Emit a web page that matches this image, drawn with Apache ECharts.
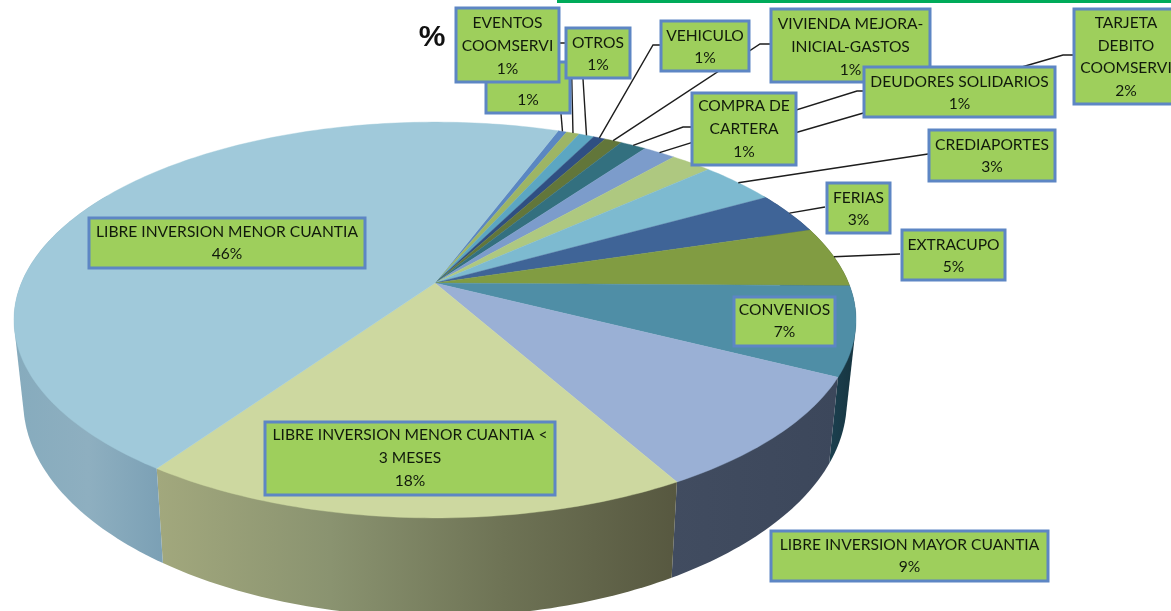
<!DOCTYPE html>
<html><head><meta charset="utf-8">
<style>html,body{margin:0;padding:0;background:#fff}#c{width:1171px;height:611px}</style>
<script src="https://cdn.jsdelivr.net/npm/echarts@6/dist/echarts.min.js"></script>
</head><body><div id="c"></div>
<script>
// ---- data (clockwise, starting at the small slices) ----
var categories = ['EVENTOS\nCOOMSERVI','','OTROS','VEHICULO','VIVIENDA MEJORA-\nINICIAL-GASTOS','COMPRA DE\nCARTERA','DEUDORES SOLIDARIOS','TARJETA\nDEBITO\nCOOMSERVI','CREDIAPORTES','FERIAS','EXTRACUPO','CONVENIOS','LIBRE INVERSION MAYOR CUANTIA','LIBRE INVERSION MENOR CUANTIA <\n3 MESES','LIBRE INVERSION MENOR CUANTIA'];
var values = [0.4,0.6,0.7,0.55,0.8,1.2,1.5,1.9,3.55,3.4,4.95,7.25,9.4,17.8,46.1];
var percentLabels = ['1%','1%','1%','1%','1%','1%','1%','2%','3%','3%','5%','7%','9%','18%','46%'];

// ---- styles ----
var topColors = ['#5b87c2','#9db565','#5ca6c2','#2f4f82','#62763a','#33707f','#7c9ccb','#aec880','#7dbad0','#3f6497','#819c42','#4f8ea6','#9ab0d5','#cdd8a0','#a0c9da'];
var wallStops = [
 ['#2f4f82','#2f4f82'],['#66783a','#66783a'],['#33687c','#33687c'],['#1e3352','#1e3352'],['#3f4a24','#3f4a24'],['#1f4150','#1f4150'],['#4c607e','#4c607e'],['#6f7d55','#6f7d55'],['#4f7280','#4f7280'],['#273f60','#273f60'],['#3b4a22','#2f3b1a'],
 ['#1c4050','#16343f'],
 ['#414c60','#3c475b'],
 ['#a2a87d','#8a9370','#6e7355','#575840'],
 ['#86abbd','#8eafc0','#7ba0b5']
];
// box: x, y, w, h, text centre y, stacking
var boxLayout = [
 [456,8,103,74,46,3],[486,62,84,51,100,1],[566,28,64,50,54,2],[661,21,88,50,47,1],[771,9,159,73,47,1],[692,93,104,72,129,1],[864,67,191,50,93,2],[1074,9,104,95,57,1],[929,130,126,51,156,1],[827,183,63,50,209,1],[902,230,103,50,256,1],[734,297,101,49,321,1],[771,531,277,50,556,1],[265,422,290,73,458,1],[89,218,276,50,243,1]
];
// leader bends from the rim to the box
var leaderLayout = [
 [[559,90]],[[571,43],[560,43]],[[583,79]],[[653,45],[660,45]],[[760,44],[770,44]],[[683,127],[691,127]],[[857,91],[863,91]],[[1063,55],[1073,55]],[[928,154]],[[825,207]],[[900,254]],null,null,null,null
];
var startAngle = 20.5;
var apex = [435,283], A = 413.6, B = 191, persp = 0.187, lowA = 404.5, lowB = 208, lowY = 78;

function project(deg, a, b, y0){
  var r = deg*Math.PI/180, u = Math.sin(r), v = -Math.cos(r), w = 1-persp*v;
  return [apex[0]+a*u/w, apex[1]+y0+b*v/w];
}
var spans = (function(){
  var total = values.reduce(function(s,x){return s+x;},0), a = startAngle, out = [];
  values.forEach(function(x){ var e = a+x/total*360; out.push([a,e]); a = e; });
  return out;
})();
function arc(s,e,a,b,y0){
  var pts = [], n = Math.max(2,Math.ceil((e-s)));
  for(var i=0;i<=n;i++) pts.push(project(s+(e-s)*i/n,a,b,y0));
  return pts;
}
function hull(points){
  var p = points.slice().sort(function(m,n){return m[0]-n[0]||m[1]-n[1];});
  function cross(o,m,n){return (m[0]-o[0])*(n[1]-o[1])-(m[1]-o[1])*(n[0]-o[0]);}
  function half(list){
    var h = [];
    list.forEach(function(q){
      while(h.length>1&&cross(h[h.length-2],h[h.length-1],q)<=0) h.pop();
      h.push(q);
    });
    h.pop();
    return h;
  }
  return half(p).concat(half(p.slice().reverse()));
}
function renderWall(params){
  var i = params.dataIndex, s = Math.max(spans[i][0],60), e = Math.min(spans[i][1],300);
  if(e<=s) return {type:'group',children:[]};
  var pts = hull(arc(s,e,A,B,0).concat(arc(s,e,lowA,lowB,lowY)));
  var xs = pts.map(function(p){return p[0];});
  var stops = wallStops[i].map(function(c,k,l){return {offset:k/(l.length-1),color:c};});
  return {type:'polygon',shape:{points:pts},
    style:{fill:new echarts.graphic.LinearGradient(Math.min.apply(null,xs),0,Math.max.apply(null,xs),0,stops,true),stroke:null}};
}
function renderTop(params){
  var i = params.dataIndex;
  return {type:'polygon',shape:{points:[apex].concat(arc(spans[i][0],spans[i][1],A,B,0))},
    style:{fill:topColors[i],stroke:topColors[i],lineWidth:0.4}};
}
function renderLeader(params){
  var i = params.dataIndex, l = leaderLayout[i];
  if(!l) return {type:'group',children:[]};
  var m = (spans[i][0]+spans[i][1])/2;
  return {type:'polyline',shape:{points:[project(m,A,B,0)].concat(l)},
    style:{fill:null,stroke:'#1d1d1d',lineWidth:1.4}};
}
function renderLabel(params){
  var i = params.dataIndex, b = boxLayout[i], name = categories[i];
  var text = (name?name+'\n':'')+percentLabels[i];
  return {type:'group',children:[
    {type:'rect',z2:b[5]*2,shape:{x:b[0],y:b[1],width:b[2],height:b[3]},
      style:{fill:'#9ecf5c',stroke:'#5d86c4',lineWidth:3}},
    {type:'text',z2:b[5]*2+1,style:{text:text,x:b[0]+b[2]/2,y:b[4],align:'center',verticalAlign:'middle',
      font:'15.6px Lato',lineHeight:22.6,fill:'#111a0c'}}
  ]};
}
var sliceData = values.map(function(v,i){return {name:categories[i]||'-',value:v};});
function layer(fn,z){return {type:'custom',coordinateSystem:'none',renderItem:fn,data:sliceData,z:z,silent:true,animation:false,clip:false};}
var chart = echarts.init(document.getElementById('c'),null,{renderer:'canvas'});
chart.setOption({
  backgroundColor:'#ffffff',animation:false,
  title:{text:'%',left:427,top:18,textAlign:'center',textStyle:{fontFamily:'Liberation Sans',fontSize:30,fontWeight:'bold',color:'#111'}},
  graphic:[{type:'rect',z:20,shape:{x:557,y:0,width:614,height:3},style:{fill:'#00ab5a'}}],
  series:[layer(renderWall,1),layer(renderTop,2),layer(renderLeader,3),layer(renderLabel,4)]
});
</script></body></html>
